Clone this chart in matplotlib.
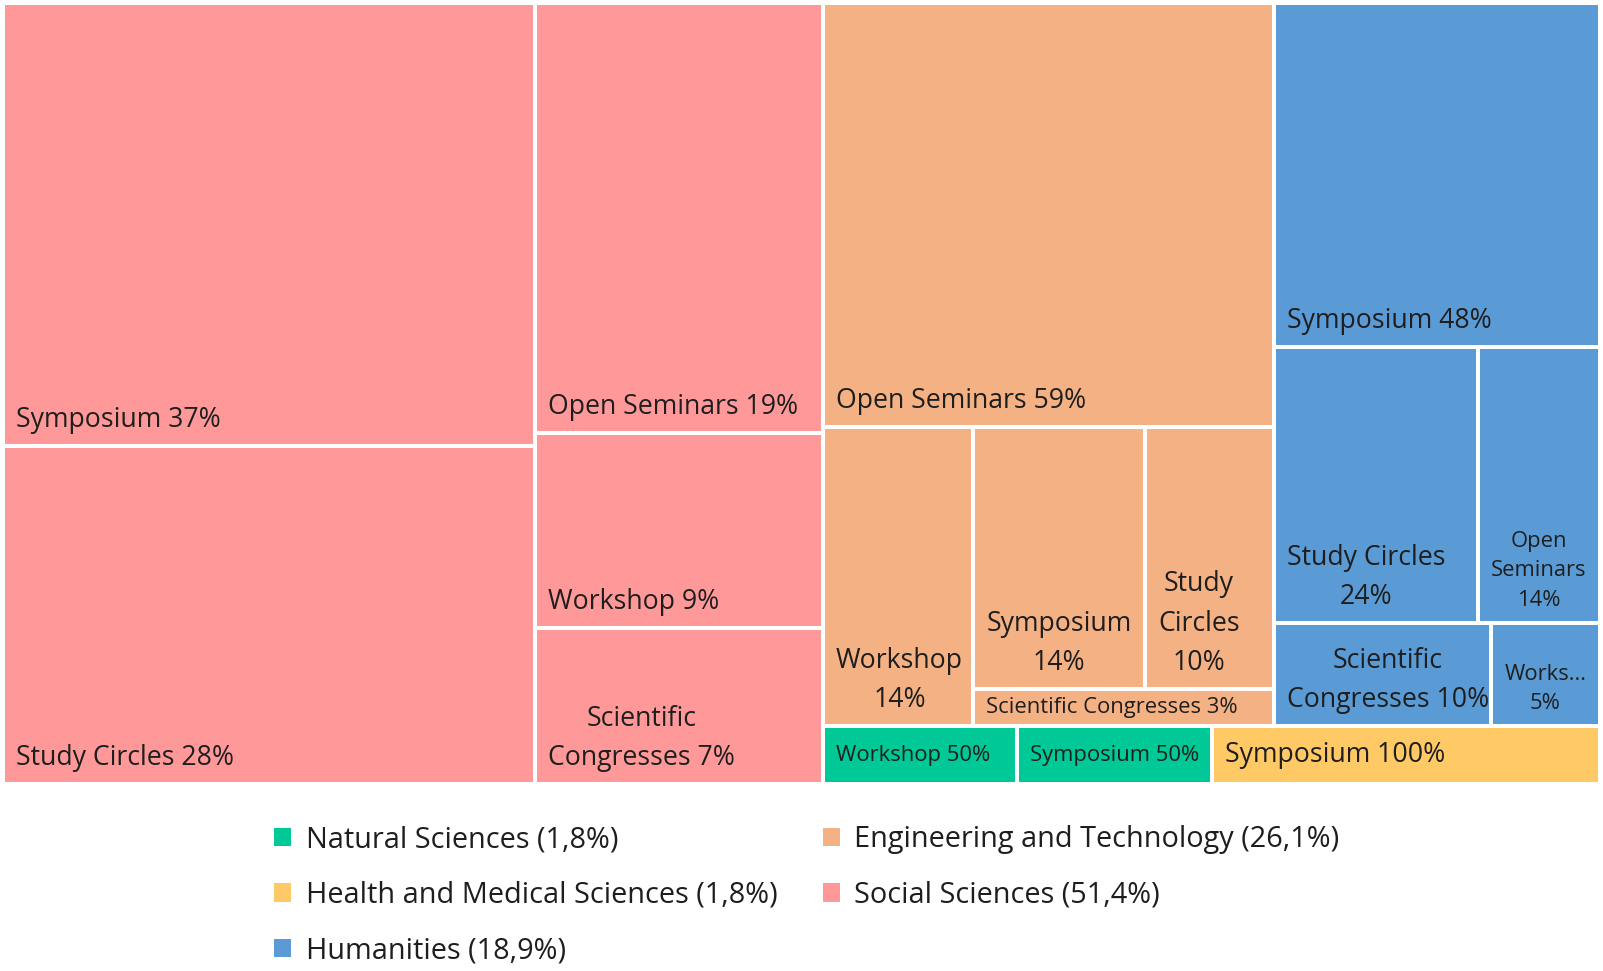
import matplotlib
matplotlib.use("Agg")
import matplotlib.pyplot as plt
from matplotlib.patches import Rectangle, Patch
from matplotlib.font_manager import FontProperties

plt.rcParams["font.family"] = ["Open Sans", "DejaVu Sans"]

# 各分野の件数（合計111件）
categories = ["Social Sciences", "Engineering and Technology", "Humanities",
              "Natural Sciences", "Health and Medical Sciences"]
category_counts = [57, 29, 21, 2, 2]

# 分野ごとの活動タイプと件数
social_types = ["Symposium", "Study Circles", "Open Seminars", "Workshop", "Scientific Congresses"]
social_counts = [21, 16, 11, 5, 4]

eng_types = ["Open Seminars", "Workshop", "Symposium", "Study Circles", "Scientific Congresses"]
eng_counts = [17, 4, 4, 3, 1]

hum_types = ["Symposium", "Study Circles", "Open Seminars", "Scientific Congresses", "Workshop"]
hum_counts = [10, 5, 3, 2, 1]

nat_types = ["Workshop", "Symposium"]
nat_counts = [1, 1]

health_types = ["Symposium"]
health_counts = [2]

# 凡例の並び（2列、列ごとに埋まる）
legend_order = ["Natural Sciences", "Health and Medical Sciences", "Humanities",
                "Engineering and Technology", "Social Sciences"]

# 見た目
colors = {
    "Social Sciences": "#FF9999",
    "Engineering and Technology": "#F4B183",
    "Humanities": "#5B9BD5",
    "Natural Sciences": "#00C896",
    "Health and Medical Sciences": "#FFC966",
}
# 帯の分け方: (要素数, 'h'=横に並べる / 'v'=縦に積む)
strips = {
    "top": [(1, "v"), (2, "h"), (2, "h")],
    "Social Sciences": [(2, "v"), (1, "h"), (1, "h"), (1, "h")],
    "Engineering and Technology": [(1, "h"), (1, "v"), (2, "h"), (1, "h")],
    "Humanities": [(1, "h"), (2, "h"), (2, "h")],
    "Natural Sciences": [(2, "h")],
    "Health and Medical Sciences": [(1, "h")],
}
sub = {
    "Social Sciences": (social_types, social_counts),
    "Engineering and Technology": (eng_types, eng_counts),
    "Humanities": (hum_types, hum_counts),
    "Natural Sciences": (nat_types, nat_counts),
    "Health and Medical Sciences": (health_types, health_counts),
}
# Excelと同じ位置で改行させるセル（最初の何語で折り返すか）
forced_breaks = {("Social Sciences", "Scientific Congresses"): 1}

TEXT = "#1e1e1e"
BIG, SMALL = 19.2, 15.8
GAP = 4
PADX, PADY = 11, 10
LS = 1.53


def slice_strips(values, spec, x, y, w, h):
    rects = []
    i = 0
    for k, (n, d) in enumerate(spec):
        part = values[i:i + n]
        rest = sum(values[i:])
        s = sum(part)
        last = k == len(spec) - 1
        if d == "h":
            sh = h if last else h * s / rest
            cx = x
            for v in part:
                cw = w * v / s
                rects.append((cx, y, cw, sh))
                cx += cw
            y += sh
            h -= sh
        else:
            sw = w if last else w * s / rest
            cy = y
            for v in part:
                ch = h * v / s
                rects.append((x, cy, sw, ch))
                cy += ch
            x += sw
            w -= sw
        i += n
    return rects


fig = plt.figure(figsize=(16.03, 9.71), dpi=100)
W, H = 1597, 781
ax = fig.add_axes([3 / 1603, 1 - 784 / 971, W / 1603, H / 971])
ax.set_xlim(0, W)
ax.set_ylim(H, 0)
ax.axis("off")

renderer = fig.canvas.get_renderer()


def text_w(s, size):
    prop = FontProperties(family=["Open Sans", "DejaVu Sans"], size=size)
    w, h, d = renderer.get_text_width_height_descent(s, prop, ismath=False)
    return w


def wrap(words, size, maxw):
    lines = []
    cur = ""
    for wd in words:
        t = wd if not cur else cur + " " + wd
        if text_w(t, size) <= maxw or not cur:
            cur = t
        else:
            lines.append(cur)
            cur = wd
    lines.append(cur)
    return lines


def fit_label(label, cw, ch, brk=None):
    maxw = cw - 2 * 4
    words = label.split()
    for size in (BIG, SMALL):
        if brk:
            lines = [" ".join(words[:brk]), " ".join(words[brk:])]
        else:
            lines = wrap(words, size, maxw)
        lh = size * 100 / 72 * 1.35
        if all(text_w(l, size) <= maxw for l in lines) and len(lines) * lh <= ch - 4:
            return "\n".join(lines), size
    # 入らない単語は省略
    maxw = cw - 2 * 8
    short = []
    for wd in words:
        if text_w(wd, SMALL) > maxw:
            k = len(wd)
            while k > 1 and text_w(wd[:k] + "...", SMALL) > maxw:
                k -= 1
            wd = wd[:k] + "..."
        short.append(wd)
    return "\n".join(wrap(short, SMALL, maxw)), SMALL


top_rects = slice_strips(category_counts, strips["top"], 0, 0, W, H)
for cat, (x, y, w, h) in zip(categories, top_rects):
    names, counts = sub[cat]
    total = sum(counts)
    for name, c, (sx, sy, sw, sh) in zip(names, counts,
                                         slice_strips(counts, strips[cat], x, y, w, h)):
        rx, ry, rw, rh = sx + GAP / 2, sy + GAP / 2, sw - GAP, sh - GAP
        ax.add_patch(Rectangle((rx, ry), rw, rh, facecolor=colors[cat], edgecolor="none"))
        label = f"{name} {round(100 * c / total)}%"
        txt, size = fit_label(label, rw, rh, forced_breaks.get((cat, name)))
        if rh < 70:
            ax.text(rx + PADX, ry + rh / 2, txt, fontsize=size, color=TEXT,
                    ha="left", va="center", multialignment="center", linespacing=LS)
        else:
            ax.text(rx + PADX, ry + rh - PADY, txt, fontsize=size, color=TEXT,
                    ha="left", va="bottom", multialignment="center", linespacing=LS)

# 凡例
total_all = sum(category_counts)
handles = []
labels = []
for cat in legend_order:
    c = category_counts[categories.index(cat)]
    pct = f"{100 * c / total_all:.1f}".replace(".", ",")
    handles.append(Patch(facecolor=colors[cat], edgecolor="none"))
    labels.append(f"{cat} ({pct}%)")

fig.legend(handles, labels, ncol=2, loc="upper left",
           bbox_to_anchor=(274 / 1603, 1 - 825 / 971), frameon=False,
           fontsize=20.8, handlelength=0.6, handleheight=0.6, handletextpad=0.5,
           columnspacing=1.56, labelspacing=0.92, borderpad=0, borderaxespad=0,
           labelcolor=TEXT)

plt.savefig("out.png", dpi=100)
plt.close()
